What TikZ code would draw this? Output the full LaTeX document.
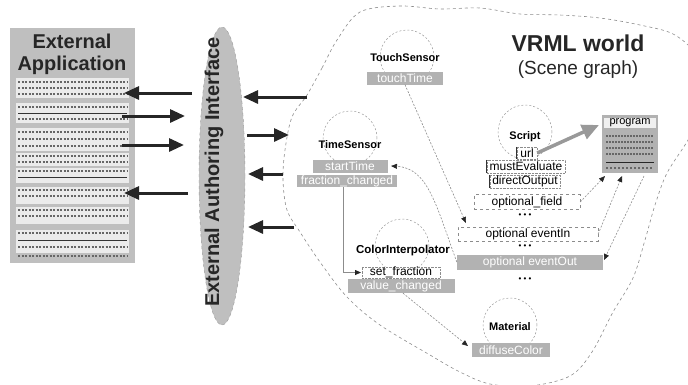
\documentclass[tikz,border=0pt]{standalone}
\usepackage{fontspec}
\setmainfont{Liberation Sans}
\usetikzlibrary{arrows.meta,shapes.geometric}
\begin{document}
\begin{tikzpicture}[x=1pt,y=-1pt,
  bigtitle/.style={font=\bfseries\fontsize{20}{22}\selectfont, text=black!85, align=center},
  nodetitle/.style={font=\bfseries\fontsize{11}{11}\selectfont, inner sep=0pt},
  fieldfont/.style={font=\fontsize{12}{12}\selectfont},
  graybox/.style={rectangle, fill=black!30, text=white, inner sep=0pt, minimum height=13pt, fieldfont},
  fieldbox/.style={rectangle, draw=black!45, densely dotted, fill=white, inner sep=0pt, minimum height=13pt, fieldfont},
  ring/.style={circle, draw=black!40, dash pattern=on 2pt off 2pt, line width=0.5pt, minimum size=54pt, inner sep=0pt},
  bigarrow/.style={line width=3pt, draw=black!85, -{Triangle[length=15pt,width=13pt]}},
  link/.style={draw=black!45, dash pattern=on 2pt off 1.5pt, line width=0.6pt, -{Triangle[length=6pt,width=5pt,color=black!85]}},
  solidlink/.style={draw=black!45, line width=0.8pt, -{Triangle[length=6pt,width=5pt,color=black!85]}},
  rowtext/.style={line width=2pt, draw=black!60, dash pattern=on 2pt off 1.5pt},
  dots/.style={font=\fontsize{8}{8}\selectfont, inner sep=0pt}
]
\useasboundingbox (0,0) rectangle (688,384);

% ---------- external application panel ----------
\node[rectangle, fill=black!25, minimum width=125pt, minimum height=235pt, inner sep=0pt] (app) at (72.5,145.5) {};
\node[bigtitle] (apptitle) at (72,54) {External\\Application};
\foreach \a/\b in {78/98,103/123,128/151,153/166,168/183,187/204,207/224,230/253}
  \fill[black!8] (16,\a) rectangle (129,\b);
\foreach \y in {82,88,94,107,119,132,139,146,156,162,171,190,196,210,216,233,247,256}
  \draw[rowtext] (18,\y) -- (127,\y);
\foreach \y in {113,177,240}
  \draw[line width=1pt, black!80] (18,\y) -- (127,\y);

% ---------- external authoring interface ----------
\node[ellipse, fill=black!25, draw=black!40, dashed, minimum width=46pt, minimum height=298pt, inner sep=0pt] (eai) at (222,176) {};
\node[rotate=90, font=\bfseries\fontsize{20}{20}\selectfont, text=black!85] (eailabel) at (214,172) {External Authoring Interface};

% ---------- VRML world outline ----------
\draw[black!45, dash pattern=on 3pt off 3pt, line width=0.6pt]
  plot[smooth cycle, tension=0.55] coordinates {
    (307,95) (322,68) (337,40) (360,12) (400,6) (440,9) (480,8) (520,14)
    (560,15) (600,18) (640,25) (675,35) (698,60) (702,110) (688,140)
    (667,173) (655,205) (645,240) (633,278) (613,312) (592,352) (570,376)
    (530,386) (490,384) (460,372) (430,355) (380,325) (347,297) (320,262)
    (300,232) (287,210) (283,180) (285,150) (292,117)};
\node[bigtitle, font=\bfseries\fontsize{23}{23}\selectfont] (vrml) at (578,43) {VRML world};
\node[font=\fontsize{19}{19}\selectfont, text=black!85] (scene) at (578,70) {(Scene graph)};

% ---------- scene graph nodes ----------
\node[ring] (touchring) at (407,57) {};
\node[ring] (timering) at (350,138) {};
\node[ring] (colorring) at (402,246) {};
\node[ring] (scriptring) at (525,132) {};
\node[ring] (matring) at (510,325) {};

\node[nodetitle] (touch) at (405,58) {TouchSensor};
\node[graybox, minimum width=76pt] (touchtime) at (405,78) {touchTime};

\node[nodetitle] (time) at (350,145) {TimeSensor};
\node[graybox, minimum width=75pt] (starttime) at (350,166) {startTime};
\node[graybox, minimum width=100pt, minimum height=12pt] (fraction) at (347,181) {fraction\_changed};

\node[nodetitle, font=\bfseries\fontsize{11.5}{11.5}\selectfont] (color) at (403,251) {ColorInterpolator};
\node[fieldbox, minimum width=78pt, minimum height=11pt] (setfrac) at (401,272.5) {set\_fraction};
\node[graybox, minimum width=107pt, minimum height=14pt] (valchg) at (401,286) {value\_changed};

\node[nodetitle] (script) at (525,137) {Script};
\node[fieldbox, minimum width=20pt, minimum height=12pt] (url) at (527,153) {url};
\node[fieldbox, minimum width=78pt] (musteval) at (526,166.5) {mustEvaluate};
\node[fieldbox, minimum width=70pt] (direct) at (525,181.5) {directOutput};
\foreach \f in {url,musteval,direct}
  \draw[black!80, line width=0.7pt] (\f.north west) -- (\f.south west);
\node[fieldbox, dashed, minimum width=106pt, minimum height=15pt] (optfield) at (527,202) {optional\_field};
\node[dots] (dotsa) at (525,216) {\textbullet\ \textbullet\ \textbullet};
\node[fieldbox, dashed, minimum width=140pt, minimum height=14pt] (evin) at (528,234) {optional eventIn};
\node[dots] (dotsb) at (525,247) {\textbullet\ \textbullet\ \textbullet};
\node[graybox, minimum width=146pt, minimum height=15pt] (evout) at (530,262) {optional eventOut};
\node[dots] (dotsc) at (525,280) {\textbullet\ \textbullet\ \textbullet};

\node[nodetitle] (material) at (510,327) {Material};
\node[graybox, minimum width=78pt, minimum height=14pt] (diffuse) at (511,350) {diffuseColor};

% ---------- program listing ----------
\node[rectangle, fill=black!30, minimum width=56pt, minimum height=58pt, inner sep=0pt] (program) at (630,144) {};
\node[fill=black!6, font=\fontsize{11}{11}\selectfont, inner sep=1pt, minimum width=52pt] (proglabel) at (630,123) {program};
\foreach \y in {136,142,148,154}
  \draw[line width=1.6pt, draw=black!60, dash pattern=on 1.5pt off 1.5pt] (606,\y) -- (654,\y);
\draw[line width=0.8pt, black!85] (606,162) -- (654,162);
\draw[line width=1.6pt, draw=black!60, dash pattern=on 1.5pt off 2.5pt] (606,168) -- (654,168);

% ---------- connectors between panels ----------
\coordinate (a1s) at (192,93);  \coordinate (a1e) at (124,93);
\coordinate (a2s) at (122,116); \coordinate (a2e) at (185,116);
\coordinate (a3s) at (122,145); \coordinate (a3e) at (184,145);
\coordinate (a4s) at (188,193); \coordinate (a4e) at (124,193);
\draw[bigarrow] (a1s) -- (a1e);
\draw[bigarrow] (a2s) -- (a2e);
\draw[bigarrow] (a3s) -- (a3e);
\draw[bigarrow] (a4s) -- (a4e);

\coordinate (b1s) at (307,97);  \coordinate (b1e) at (243,97);
\coordinate (b2s) at (247,135); \coordinate (b2e) at (289,135);
\coordinate (b3s) at (283,174); \coordinate (b3e) at (248,174);
\coordinate (b4s) at (294,227); \coordinate (b4e) at (248,227);
\draw[bigarrow] (b1s) -- (b1e);
\draw[bigarrow] (b2s) -- (b2e);
\draw[bigarrow] (b3s) -- (b3e);
\draw[bigarrow] (b4s) -- (b4e);

% ---------- routes inside the scene graph ----------
\coordinate (evintip) at (466,223);
\draw[link] (touchtime.south) -- (evintip);

\coordinate (starttip) at (391,166);
\draw[link] (evout.west) .. controls (436,205) and (428,168) .. (starttip);

\coordinate (fracturn) at (343,272.5);
\coordinate (settip) at (361,272.5);
\draw[solidlink] (fraction.south -| fracturn) -- (fracturn) -- (settip);

\coordinate (diffusetip) at (468,346);
\draw[link] (valchg.south) ++(2,0) -- (diffusetip);

\coordinate (progtipa) at (605,176);
\coordinate (progtipb) at (622,176);
\coordinate (progout) at (644,176);
\coordinate (evouttip) at (604,260);
\draw[link] (optfield.east) -- (progtipa);
\draw[link] (evin.east) -- (progtipb);
\draw[link] (progout) -- (evouttip);

\coordinate (urltip) at (599,125);
\draw[line width=3.5pt, draw=black!40, -{Triangle[length=17pt,width=15pt]}] (url.east) -- (urltip);
\end{tikzpicture}
\end{document}
